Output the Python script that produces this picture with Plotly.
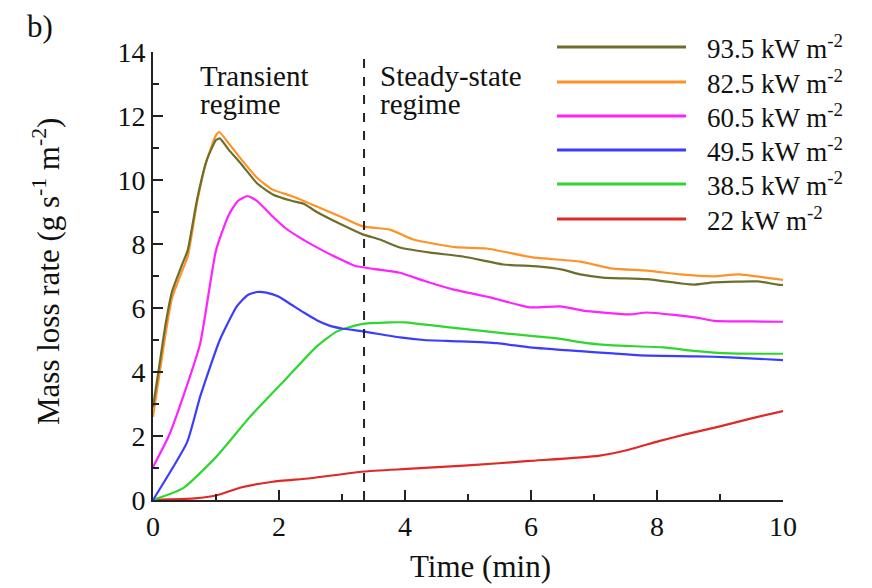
import plotly.graph_objects as go

# ---- data ----
labels = ["93.5 kW m<sup>-2</sup>", "82.5 kW m<sup>-2</sup>", "60.5 kW m<sup>-2</sup>",
          "49.5 kW m<sup>-2</sup>", "38.5 kW m<sup>-2</sup>", "22 kW m<sup>-2</sup>"]
colors = ["#6e6e2c", "#ff9226", "#ff22ff", "#3c3cff", "#2ed62e", "#e02828"]

x_935 = [0, 0.1, 0.2, 0.3, 0.45, 0.55, 0.7, 0.85, 1.0, 1.06, 1.2, 1.4, 1.65, 1.9, 2.2, 2.4, 2.6, 3.0,
         3.33, 3.6, 3.92, 4.4, 4.92, 5.56, 6.1, 6.5, 6.78, 7.14, 7.84, 8.37, 8.6, 8.9, 9.6, 9.95, 10]
y_935 = [2.9, 4.2, 5.5, 6.5, 7.3, 7.8, 9.4, 10.6, 11.25, 11.3, 10.95, 10.5, 9.9, 9.55, 9.35, 9.25, 9.0, 8.6,
         8.3, 8.14, 7.89, 7.73, 7.61, 7.36, 7.3, 7.2, 7.05, 6.95, 6.9, 6.77, 6.73, 6.8, 6.83, 6.72, 6.72]

x_825 = [0, 0.1, 0.2, 0.3, 0.45, 0.55, 0.7, 0.85, 1.0, 1.05, 1.2, 1.38, 1.65, 1.9, 2.2, 2.6, 2.97, 3.33,
         3.76, 4.13, 4.8, 5.3, 6.03, 6.78, 7.3, 7.84, 8.37, 8.9, 9.3, 9.95, 10]
y_825 = [2.6, 3.9, 5.2, 6.3, 7.1, 7.6, 9.3, 10.6, 11.4, 11.5, 11.15, 10.7, 10.07, 9.7, 9.5, 9.17, 8.86, 8.55,
         8.45, 8.14, 7.9, 7.86, 7.58, 7.45, 7.23, 7.17, 7.05, 6.99, 7.05, 6.89, 6.88]

x_605 = [0, 0.25, 0.48, 0.75, 1.0, 1.2, 1.35, 1.5, 1.65, 1.9, 2.1, 2.33, 2.55, 2.76, 3.0, 3.2, 3.5, 3.92,
         4.3, 4.76, 5.35, 5.98, 6.46, 6.89, 7.57, 7.84, 8.63, 8.9, 9.5, 10]
y_605 = [1.03, 2.0, 3.24, 4.9, 7.8, 8.9, 9.35, 9.5, 9.35, 8.86, 8.5, 8.2, 7.95, 7.73, 7.5, 7.32, 7.22, 7.1,
         6.85, 6.58, 6.33, 6.02, 6.05, 5.9, 5.8, 5.86, 5.7, 5.6, 5.58, 5.57]

x_495 = [0, 0.54, 0.75, 1.06, 1.33, 1.5, 1.65, 1.8, 2.0, 2.2, 2.4, 2.6, 2.8, 3.0, 3.33, 3.92, 4.3,
         4.83, 5.46, 5.98, 6.78, 7.3, 7.73, 8.63, 9.16, 10]
y_495 = [0, 1.8, 3.24, 5.0, 6.05, 6.4, 6.5, 6.48, 6.35, 6.1, 5.85, 5.62, 5.45, 5.36, 5.27, 5.08, 5.0,
         4.96, 4.9, 4.77, 4.65, 4.58, 4.52, 4.49, 4.46, 4.37]

x_385 = [0, 0.48, 1.0, 1.54, 2.06, 2.6, 2.92, 3.29, 3.76, 4.0, 4.67, 5.62, 6.41, 6.89, 7.3, 8.1,
         8.63, 9.16, 10]
y_385 = [0, 0.37, 1.34, 2.6, 3.68, 4.8, 5.27, 5.49, 5.55, 5.55, 5.4, 5.2, 5.05, 4.9, 4.83, 4.77,
         4.65, 4.58, 4.57]

x_22 = [0, 0.66, 1.0, 1.41, 1.9, 2.5, 3.34, 4.03, 5.0, 5.97, 7.07, 7.55, 8.03, 8.45, 9.0, 9.5, 10]
y_22 = [0, 0.05, 0.14, 0.4, 0.57, 0.68, 0.89, 0.97, 1.08, 1.22, 1.38, 1.57, 1.84, 2.05, 2.3, 2.55, 2.78]

series_x = [x_935, x_825, x_605, x_495, x_385, x_22]
series_y = [y_935, y_825, y_605, y_495, y_385, y_22]

regime_boundary = 3.35
x_ticks = [0, 2, 4, 6, 8, 10]
y_ticks = [0, 2, 4, 6, 8, 10, 12, 14]

FONT = "Liberation Serif, Times New Roman, Times, DejaVu Serif, serif"
TXT = "#111111"

fig = go.Figure()
for xs, ys, c, name in reversed(list(zip(series_x, series_y, colors, labels))):
    fig.add_trace(go.Scatter(x=xs, y=ys, mode="lines", name=name,
                             line=dict(color=c, width=2.2, shape="spline", smoothing=0.5),
                             showlegend=False))

fig.add_shape(type="line", xref="x", yref="y", x0=regime_boundary, x1=regime_boundary,
              y0=0, y1=14, line=dict(color="#222222", width=2, dash="dash"))

ann = []
for txt, xv, yv in [("Transient", 0.71, 13.24), ("regime", 0.71, 12.38),
                    ("Steady-state", 3.57, 13.24), ("regime", 3.57, 12.38)]:
    ann.append(dict(text=txt, x=xv, y=yv, xref="x", yref="y", xanchor="left",
                    yanchor="middle", showarrow=False, font=dict(size=29, family=FONT, color=TXT)))

# custom legend (paper coordinates)
W, H = 630.0, 448.0
L = 153.0
legend_rows_px = [47, 82, 116, 150, 184, 219]
for row_px, c, name in zip(legend_rows_px, colors, labels):
    py = (500 - row_px) / H
    fig.add_shape(type="line", xref="paper", yref="paper",
                  x0=(557 - L) / W, x1=(686 - L) / W, y0=py, y1=py,
                  line=dict(color=c, width=3))
    ann.append(dict(text=name, x=(705 - L) / W, y=py, xref="paper", yref="paper",
                    xanchor="left", yanchor="middle", showarrow=False,
                    font=dict(size=27, family=FONT, color=TXT)))

ann.append(dict(text="Mass loss rate (g s<sup>-1</sup> m<sup>-2</sup>)", x=(46 - L) / W,
                y=(500 - 272) / H, xref="paper", yref="paper", textangle=-90,
                xanchor="center", yanchor="middle", showarrow=False,
                font=dict(size=31, family=FONT, color=TXT)))
ann.append(dict(text="Time (min)", x=(480 - L) / W, y=(500 - 566) / H, xref="paper", yref="paper",
                xanchor="center", yanchor="middle", showarrow=False,
                font=dict(size=31, family=FONT, color=TXT)))
ann.append(dict(text="b)", x=(40 - L) / W, y=(500 - 26) / H, xref="paper", yref="paper",
                xanchor="center", yanchor="middle", showarrow=False,
                font=dict(size=31, family=FONT, color=TXT)))

axis_common = dict(showgrid=False, zeroline=False, showline=True, linecolor="#222222", linewidth=2,
                   ticks="inside", ticklen=10, tickwidth=2, tickcolor="#222222",
                   tickfont=dict(size=28, family=FONT, color=TXT),
                   minor=dict(ticks="inside", ticklen=6, tickwidth=2, tickcolor="#222222", dtick=1))

fig.update_xaxes(range=[0, 10], tickvals=x_ticks, **axis_common)
fig.update_yaxes(range=[0, 14], tickvals=y_ticks, **axis_common)

fig.update_layout(width=872, height=588, margin=dict(l=153, r=89, t=52, b=88),
                  plot_bgcolor="white", paper_bgcolor="white", annotations=ann,
                  font=dict(family=FONT, color=TXT))

fig.write_html("out.html")
